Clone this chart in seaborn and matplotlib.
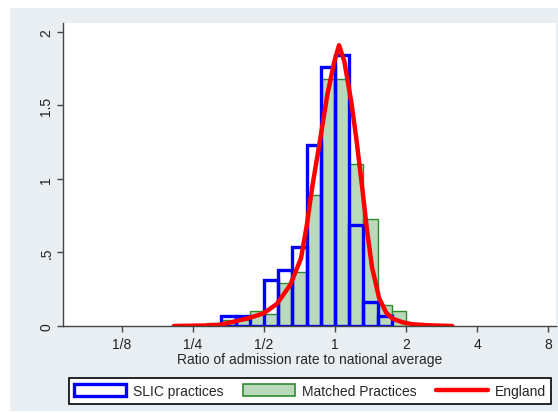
# Histogram of admission-rate ratios, SLIC vs matched practices, with England density

import numpy as np
import pandas as pd
import matplotlib
matplotlib.use("Agg")
import matplotlib.pyplot as plt
from matplotlib.patches import Patch, Rectangle
from matplotlib.lines import Line2D
import seaborn as sns

# x values are log2(ratio); bins are 0.2 wide
bin_width = 0.2

slic_left = [-1.6, -1.4, -1.2, -1.0, -0.8, -0.6, -0.4, -0.2, 0.0, 0.2, 0.4, 0.6]
slic_density = [0.07, 0.07, 0.0, 0.31, 0.38, 0.54, 1.23, 1.76, 1.84, 0.69, 0.16, 0.07]

matched_left = [-1.8, -1.6, -1.4, -1.2, -1.0, -0.8, -0.6, -0.4, -0.2, 0.0, 0.2, 0.4, 0.6, 0.8]
matched_density = [0.02, 0.04, 0.04, 0.10, 0.08, 0.29, 0.37, 0.89, 1.68, 1.68, 1.10, 0.73, 0.14, 0.10]

england_x = [-2.27, -2.0, -1.8, -1.62, -1.42, -1.21, -1.01, -0.82, -0.63, -0.48, -0.40, -0.32,
             -0.21, -0.11, -0.01, 0.056, 0.13, 0.23, 0.30, 0.38, 0.45, 0.52, 0.62, 0.72,
             0.81, 0.95, 1.09, 1.3, 1.65]
england_y = [0.0, 0.002, 0.004, 0.008, 0.03, 0.055, 0.085, 0.15, 0.28, 0.46, 0.68, 0.95,
             1.27, 1.57, 1.80, 1.91, 1.80, 1.52, 1.27, 0.95, 0.65, 0.40, 0.19, 0.09,
             0.05, 0.025, 0.012, 0.005, 0.0]

x_ticks = [-3, -2, -1, 0, 1, 2, 3]
x_ticklabels = ["1/8", "1/4", "1/2", "1", "2", "4", "8"]
y_ticks = [0, 0.5, 1, 1.5, 2]
y_ticklabels = ["0", ".5", "1", "1.5", "2"]

slic = pd.DataFrame({"left": slic_left, "density": slic_density})
slic["mid"] = slic["left"] + bin_width / 2
matched = pd.DataFrame({"left": matched_left, "density": matched_density})
matched["mid"] = matched["left"] + bin_width / 2
england = pd.DataFrame({"x": england_x, "y": england_y})

sns.set_style("ticks")
plt.rcParams["font.family"] = ["Liberation Sans", "DejaVu Sans"]

green_fill = "#BAD8BA"
green_edge = "#2E8B2E"

fig = plt.figure(figsize=(5.58, 4.14), dpi=100, facecolor="white")
fig.patches.append(Rectangle((10 / 558, 2 / 414), 548 / 558, 403 / 414,
                             transform=fig.transFigure, facecolor="#E8EEF1",
                             edgecolor="none", zorder=-10))
ax = fig.add_axes([63 / 558, 1 - 327 / 414, (556 - 63) / 558, (327 - 24) / 414])
ax.set_facecolor("white")

sns.histplot(data=matched, x="mid", weights="density",
             bins=list(matched["left"]) + [matched["left"].iloc[-1] + bin_width],
             stat="count", fill=True, facecolor=green_fill, edgecolor=green_edge,
             linewidth=1.0, alpha=1, ax=ax)
sns.histplot(data=slic, x="mid", weights="density",
             bins=list(slic["left"]) + [slic["left"].iloc[-1] + bin_width],
             stat="count", fill=False, color="#0000FF", linewidth=2.4, ax=ax)
sns.lineplot(data=england, x="x", y="y", color="#FF0000", linewidth=3.2, ax=ax)

ax.set_xlim(-3.83, 3.11)
ax.set_ylim(0, 2.061)
ax.set_xticks(x_ticks)
ax.set_xticklabels(x_ticklabels)
ax.set_yticks(y_ticks)
ax.set_yticklabels(y_ticklabels, rotation=90, va="center")
ax.set_xlabel("Ratio of admission rate to national average", fontsize=10, labelpad=1)
ax.set_ylabel("")
ax.tick_params(direction="out", length=4, width=1, color="#444444",
               labelsize=10, labelcolor="#222222")
ax.tick_params(axis="x", pad=4)
ax.tick_params(axis="y", pad=3)
for side in ["top", "right"]:
    ax.spines[side].set_visible(False)
for side in ["left", "bottom"]:
    ax.spines[side].set_color("#444444")
    ax.spines[side].set_linewidth(1)

handles = [
    Patch(facecolor="white", edgecolor="#0000FF", linewidth=2.4),
    Patch(facecolor=green_fill, edgecolor=green_edge, linewidth=1.2),
    Line2D([0], [0], color="#FF0000", linewidth=3.2),
]
labels = ["SLIC practices", "Matched Practices", "England"]
leg = fig.legend(handles, labels, loc="center", bbox_to_anchor=(310 / 558, 1 - 392 / 414),
                 ncol=3, frameon=True, fancybox=False, edgecolor="black",
                 facecolor="white", framealpha=1, fontsize=10, handlelength=3.7,
                 handleheight=1.0, columnspacing=1.45, handletextpad=0.5, borderpad=0.4)
leg.get_frame().set_linewidth(1.2)

fig.savefig("out.png", dpi=100, facecolor=fig.get_facecolor())
